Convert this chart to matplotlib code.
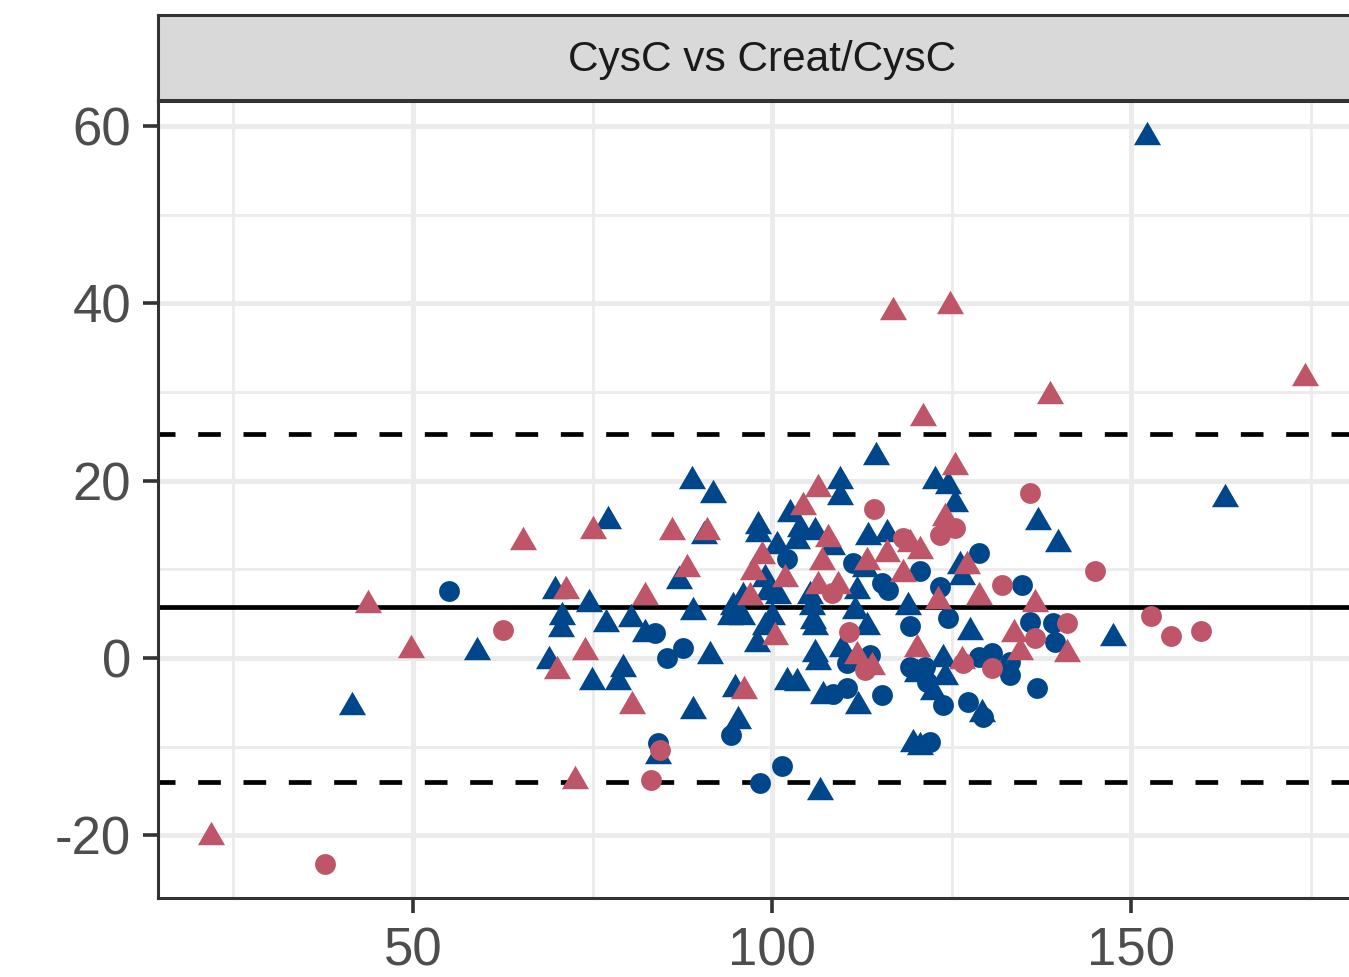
import matplotlib
matplotlib.use("Agg")
import matplotlib.pyplot as plt
import numpy as np

plt.rcParams['font.family'] = ['Liberation Sans', 'DejaVu Sans']
plt.rcParams['axes.unicode_minus'] = False

title = "CysC vs Creat/CysC"
x_ticks = [50, 100, 150]
y_ticks = [-20, 0, 20, 40, 60]
mean_diff = 5.75
upper_loa = 25.25
lower_loa = -14.0

# blue triangles
bt_x = [41.5, 58.9, 77.2, 88.9, 91.8, 90.5, 87.0, 69.8, 74.5, 89.0, 70.7, 70.6, 76.9, 80.4, 82.3,
        68.9, 74.9, 79.2, 78.6, 89.0, 84.1, 91.4, 94.8, 95.3, 106.7, 102.1, 103.5, 106.0, 106.4,
        107.1, 112.0, 113.2, 109.7, 119.6, 97.9, 106.0, 114.5, 109.5, 109.5, 102.5, 98.0, 98.0,
        103.9, 106.0, 100.7, 103.5, 108.4, 113.4, 116.0, 113.0, 99.0, 99.4, 100.8, 105.3, 111.8,
        96.0, 94.6, 94.2, 95.8, 100.0, 99.0, 105.7, 105.6, 111.6, 118.9, 122.7, 124.5, 125.5,
        137.0, 139.8, 126.2, 126.5, 127.6, 147.4, 123.8, 124.1, 122.4, 129.2, 120.6, 152.2,
        163.0, 120.2]
bt_y = [-5.1, 1.1, 15.9, 20.4, 18.8, 14.2, 9.1, 8.0, 6.6, 5.6, 5.1, 3.7, 4.3, 4.8, 3.2,
        0.1, -2.3, -0.8, -2.3, -5.5, -10.6, 0.7, -3.0, -6.7, -14.7, -2.3, -2.4, 0.9, 0.0,
        -3.8, -5.0, 4.0, 1.5, -9.2, 2.0, 3.9, 23.1, 20.4, 18.6, 16.7, 15.3, 14.4,
        15.0, 14.7, 13.1, 13.6, 13.0, 14.1, 14.4, 10.5, 9.4, 7.9, 7.4, 7.4, 8.0,
        7.3, 6.2, 5.1, 5.1, 5.1, 3.9, 4.6, 6.2, 5.8, 6.2, 20.4, 19.8, 17.8,
        15.8, 13.3, 10.8, 9.6, 3.4, 2.7, 0.3, -1.7, -3.4, -5.9, -9.6, 59.2,
        18.4, -1.4]

# red triangles
rt_x = [21.9, 43.7, 49.7, 65.3, 75.1, 86.1, 91.0, 88.2, 71.3, 82.3, 70.1, 74.0, 80.5, 72.6,
        96.1, 100.4, 111.8, 113.9, 120.2, 106.4, 104.3, 107.8, 119.2, 98.6, 107.0, 113.2,
        116.0, 118.2, 97.4, 101.8, 106.4, 109.2, 96.9, 125.5, 124.1, 120.6, 127.2, 128.8,
        123.1, 136.6, 133.7, 141.1, 134.5, 126.5, 116.9, 124.7, 174.2, 138.7, 121.0]
rt_y = [-19.7, 6.4, 1.4, 13.5, 14.8, 14.7, 14.7, 10.5, 8.0, 7.3, -1.0, 1.1, -5.0, -13.4,
        -3.3, 2.8, 0.7, -0.6, 1.5, 19.5, 17.5, 13.9, 13.3, 12.0, 11.3, 11.3,
        12.2, 9.9, 10.1, 9.4, 8.6, 8.6, 7.3, 22.0, 16.3, 12.5, 10.8, 7.3,
        6.9, 6.5, 3.2, 0.9, 1.1, 0.1, 39.5, 40.2, 32.0, 30.0, 27.5]

# blue circles
bc_x = [55.0, 83.7, 87.6, 85.4, 84.1, 94.3, 101.4, 98.3, 108.5, 110.4, 115.3, 110.4, 113.6,
        119.2, 119.2, 102.1, 111.3, 120.6, 115.3, 116.2, 128.8, 123.4, 134.8, 124.5, 135.9,
        139.1, 139.4, 128.8, 130.6, 133.1, 133.1, 136.9, 121.3, 121.6, 123.8, 127.3, 129.4, 122.0]
bc_y = [7.6, 2.8, 1.1, 0.0, -9.6, -8.7, -12.2, -14.1, -4.0, -3.4, -4.2, -0.6, 0.3,
        3.6, -1.0, 11.2, 10.7, 9.8, 8.5, 7.7, 11.8, 8.0, 8.2, 4.5, 4.1,
        3.9, 1.8, 0.1, 0.6, -0.4, -1.9, -3.4, -1.0, -2.7, -5.3, -5.0, -6.6, -9.5]

# red circles
rc_x = [37.7, 62.5, 84.4, 83.1, 110.7, 113.0, 114.2, 118.2, 108.4, 135.9, 125.5, 123.4, 145.0,
        132.0, 141.1, 136.6, 126.6, 130.6, 152.8, 155.6, 159.7]
rc_y = [-23.2, 3.2, -10.4, -13.8, 2.9, -1.4, 16.8, 13.5, 7.3, 18.6, 14.7, 13.9, 9.8,
        8.2, 3.9, 2.3, -0.6, -1.1, 4.7, 2.5, 3.0]

BLUE = "#00468B"
RED = "#BE5569"
GRID = "#EBEBEB"
DARK = "#333333"

W, H = 1349, 977
fig = plt.figure(figsize=(W / 100, H / 100), dpi=100)

px_l, px_r, px_t, px_b = 158, 1356, 101, 898
ax = fig.add_axes([px_l / W, 1 - px_b / H, (px_r - px_l) / W, (px_b - px_t) / H])
sax = fig.add_axes([px_l / W, 1 - 100 / H, (px_r - px_l) / W, (100 - 15) / H])

ax.set_xlim(14.49, 181.3)
ax.set_ylim(-27.06, 62.82)

ax.set_xticks(x_ticks)
ax.set_yticks(y_ticks)
ax.set_xticks([25, 75, 125, 175], minor=True)
ax.set_yticks([-10, 10, 30, 50], minor=True)
ax.grid(True, which='major', color=GRID, lw=3.6, zorder=0)
ax.grid(True, which='minor', color=GRID, lw=2.0, zorder=0)
ax.set_axisbelow(True)
ax.tick_params(which='minor', length=0)
ax.tick_params(which='major', length=10.5, width=2.6, color=DARK,
               labelsize=38, labelcolor="#4D4D4D")
ax.tick_params(axis='x', pad=10)
ax.tick_params(axis='y', pad=9)
for sp in ax.spines.values():
    sp.set_color(DARK)
    sp.set_linewidth(2.2)
    sp.set_zorder(5)

ax.axhline(mean_diff, color='black', lw=3.4, zorder=3)
ax.axhline(upper_loa, color='black', lw=3.4, linestyle=(1.2, (4.8, 4.8)), zorder=3)
ax.axhline(lower_loa, color='black', lw=3.4, linestyle=(1.2, (4.8, 4.8)), zorder=3)

tri = [(-1.0, -0.866), (1.0, -0.866), (0.0, 0.866)]
ax.scatter(bt_x, bt_y, marker=tri, s=380, color=BLUE, linewidths=0, zorder=4)
ax.scatter(bc_x, bc_y, marker='o', s=225, color=BLUE, linewidths=0, zorder=4)
ax.scatter(rt_x, rt_y, marker=tri, s=380, color=RED, linewidths=0, zorder=4)
ax.scatter(rc_x, rc_y, marker='o', s=225, color=RED, linewidths=0, zorder=4)

sax.set_facecolor("#D9D9D9")
sax.set_xticks([])
sax.set_yticks([])
for sp in sax.spines.values():
    sp.set_color(DARK)
    sp.set_linewidth(2.2)
sax.text(0.507 * (W - px_l) / (px_r - px_l), 0.47, title, transform=sax.transAxes,
         ha='center', va='center', fontsize=30.5, color="#1A1A1A")

fig.savefig("out.png", dpi=100)
